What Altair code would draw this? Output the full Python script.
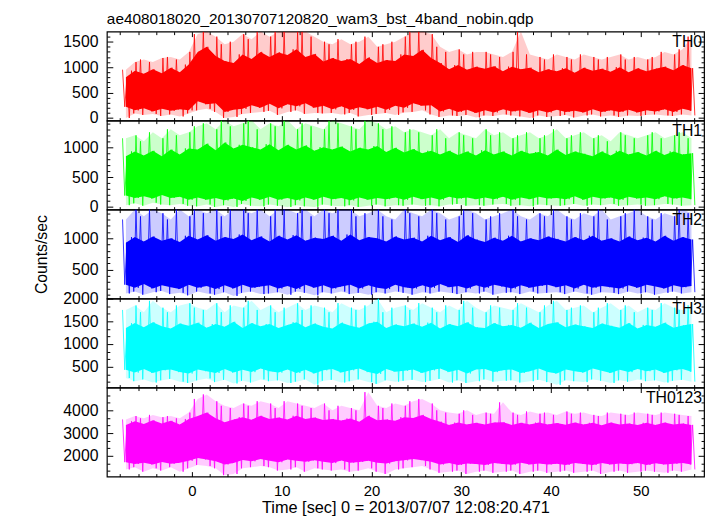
import altair as alt
import pandas as pd

FONT = "Liberation Sans"
TITLE = "ae408018020_20130707120820_wam3_bst_4band_nobin.qdp"
XTITLE = "Time [sec] 0 = 2013/07/07 12:08:20.471"
YTITLE = "Counts/sec"

T0 = -7.35  # centre of first one-second bin
X_DOMAIN = [-9.47, 57.05]
X_MAJOR = [0, 10, 20, 30, 40, 50]
X_MINOR = [-8, -6, -4, -2, 2, 4, 6, 8, 12, 14, 16, 18, 22, 24, 26, 28,
           32, 34, 36, 38, 42, 44, 46, 48, 52, 54, 56]

names = ["TH0", "TH1", "TH2", "TH3", "TH0123"]
colors = ["#ff0000", "#00ff00", "#0000ff", "#00ffff", "#ff00ff"]
y_domains = [[-52, 1698], [-45, 1445], [38, 1457], [39, 2000], [1087, 5000]]
y_major = [[0, 500, 1000, 1500], [0, 500, 1000], [500, 1000],
           [500, 1000, 1500, 2000], [2000, 3000, 4000]]
y_minor = [
    [100, 200, 300, 400, 600, 700, 800, 900, 1100, 1200, 1300, 1400, 1600],
    [100, 200, 300, 400, 600, 700, 800, 900, 1100, 1200, 1300, 1400],
    [100, 200, 300, 400, 600, 700, 800, 900, 1100, 1200, 1300, 1400],
    [167, 333, 667, 833, 1167, 1333, 1667, 1833],
    [1333, 1667, 2333, 2667, 3333, 3667, 4333, 4667],
]

# per one-second bin: highest spike, upper edge of dense band,
# lower edge of dense band, deepest dip
peak0 = [950, 1100, 1150, 1100, 1180, 1200, 1150, 1300,
         1650, 1700, 1600, 1450, 1500, 1650, 1550, 1700,
         1600, 1700, 1700, 1700, 1700, 1600, 1500, 1450,
         1550, 1450, 1500, 1600, 1400, 1450, 1500, 1600,
         1700, 1700, 1650, 1400, 1300, 1350, 1250, 1300,
         1300, 1250, 1200, 1300, 1700, 1250, 1200, 1150,
         1250, 1200, 1150, 1250, 1200, 1150, 1200, 1250,
         1150, 1200, 1150, 1200, 1300, 1250, 1350, 1600]
hi0 = [800, 930, 870, 960, 880, 990, 900, 1050,
       1300, 1400, 1220, 1120, 1080, 1250, 1160, 1300,
       1200, 1290, 1240, 1350, 1200, 1260, 1110, 1180,
       1120, 1160, 1060, 1190, 1080, 1140, 1120, 1250,
       1220, 1340, 1180, 1080, 960, 1040, 950, 1010,
       970, 1020, 920, 1010, 960, 990, 900, 960,
       920, 980, 890, 990, 930, 970, 910, 1000,
       900, 980, 920, 970, 1010, 940, 1040, 980]
lo0 = [220, 150, 190, 130, 180, 140, 170, 150,
       330, 270, 290, 120, 160, 180, 250, 200,
       280, 190, 270, 230, 290, 200, 240, 170,
       230, 160, 210, 170, 220, 160, 240, 200,
       290, 240, 250, 130, 180, 120, 160, 100,
       150, 110, 170, 130, 150, 100, 150, 110,
       160, 120, 140, 110, 170, 120, 150, 120,
       160, 110, 150, 130, 170, 120, 180, 140]
dip0 = [0, 90, 60, 80, 40, 70, 30, 90,
        150, 180, 120, 0, 20, 80, 100, 120,
        140, 60, 120, 150, 80, 100, 90, 100,
        70, 100, 30, 60, 80, 100, 60, 110,
        120, 150, 70, 20, 50, 40, 60, 10,
        50, 40, 70, 50, 30, 0, 50, 20,
        40, 60, 10, 50, 70, 30, 50, 20,
        50, 40, 60, 70, 50, 40, 70, 50]

peak1 = [1150, 1200, 1100, 1250, 1150, 1300, 1200, 1250,
         1350, 1400, 1300, 1450, 1350, 1400, 1450, 1300,
         1400, 1350, 1450, 1300, 1400, 1350, 1300, 1450,
         1400, 1350, 1300, 1450, 1400, 1300, 1350, 1250,
         1300, 1250, 1200, 1300, 1150, 1250, 1200, 1150,
         1300, 1200, 1250, 1150, 1200, 1250, 1150, 1200,
         1300, 1150, 1200, 1250, 1150, 1200, 1100, 1250,
         1200, 1150, 1200, 1250, 1150, 1200, 1250, 1150]
hi1 = [850, 930, 860, 940, 850, 960, 880, 980,
       960, 1060, 950, 1080, 980, 1040, 1000, 960,
       1050, 950, 1040, 960, 1030, 940, 1000, 960,
       1010, 930, 990, 960, 1020, 920, 990, 910,
       970, 900, 940, 880, 940, 870, 930, 860,
       950, 880, 930, 860, 940, 890, 920, 860,
       960, 870, 930, 890, 850, 930, 860, 940,
       880, 920, 860, 940, 870, 930, 880, 900]
lo1 = [190, 150, 180, 140, 200, 150, 170, 120,
       160, 120, 150, 110, 140, 100, 160, 120,
       170, 120, 150, 110, 160, 120, 170, 130,
       150, 110, 160, 120, 150, 130, 160, 120,
       170, 130, 160, 120, 170, 140, 160, 130,
       160, 130, 170, 120, 160, 130, 170, 140,
       150, 130, 180, 120, 170, 140, 160, 120,
       170, 140, 160, 130, 180, 140, 160, 130]
dip1 = [30, 60, 20, 70, 40, 30, 50, 20,
        10, 40, 0, 30, 0, 50, 20, 10,
        40, 20, 0, 30, 10, 0, 40, 20,
        10, 30, 0, 20, 40, 10, 30, 20,
        40, 20, 30, 10, 40, 50, 20, 30,
        20, 40, 50, 20, 30, 10, 40, 30,
        20, 30, 50, 20, 40, 30, 50, 20,
        30, 40, 20, 30, 50, 40, 20, 30]

peak2 = [1300, 1460, 1350, 1460, 1400, 1300, 1460, 1350,
         1460, 1400, 1460, 1350, 1460, 1460, 1400, 1460,
         1350, 1460, 1460, 1400, 1460, 1350, 1460, 1400,
         1460, 1460, 1350, 1400, 1460, 1350, 1300, 1460,
         1400, 1350, 1460, 1400, 1300, 1350, 1460, 1400,
         1300, 1350, 1400, 1460, 1350, 1300, 1400, 1350,
         1460, 1350, 1300, 1400, 1350, 1460, 1300, 1350,
         1400, 1460, 1350, 1300, 1400, 1350, 1460, 1400]
hi2 = [930, 1020, 950, 1030, 960, 1000, 940, 1040,
       980, 1050, 960, 1020, 990, 1060, 970, 1030,
       950, 1040, 980, 1050, 960, 1010, 990, 1040,
       960, 1060, 970, 1020, 1000, 950, 1030, 980,
       1010, 950, 1040, 970, 1020, 940, 1050, 980,
       940, 1010, 960, 1040, 950, 1000, 970, 1030,
       990, 950, 1020, 970, 1040, 960, 1000, 950,
       1030, 970, 1010, 950, 1040, 960, 1020, 980]
lo2 = [260, 210, 270, 200, 250, 220, 190, 260,
       210, 240, 190, 250, 200, 260, 210, 230,
       250, 200, 240, 190, 260, 210, 250, 200,
       230, 260, 200, 250, 210, 190, 260, 220,
       200, 250, 210, 270, 220, 240, 200, 250,
       210, 260, 230, 200, 250, 210, 240, 260,
       220, 250, 200, 260, 210, 240, 220, 200,
       250, 210, 260, 230, 200, 250, 220, 240]
dip2 = [120, 150, 100, 140, 160, 110, 130, 90,
        150, 120, 100, 140, 80, 130, 150, 110,
        120, 140, 100, 150, 130, 90, 140, 120,
        150, 110, 130, 100, 140, 120, 150, 130,
        100, 140, 120, 150, 130, 110, 140, 120,
        150, 100, 130, 140, 110, 150, 120, 130,
        140, 110, 150, 120, 100, 140, 130, 110,
        150, 120, 140, 100, 130, 150, 120, 140]

peak3 = [1750, 1850, 1700, 1950, 1800, 1700, 1850, 1900,
         1800, 1750, 1900, 1700, 1850, 1800, 1950, 1750,
         1850, 1700, 1800, 1900, 1750, 1850, 1800, 1700,
         1900, 1800, 1750, 1850, 2000, 1700, 1800, 1850,
         1750, 1900, 1800, 1700, 1850, 1750, 1950, 1800,
         1700, 1850, 1800, 1750, 1900, 1800, 1700, 1850,
         1950, 1750, 1800, 1850, 1700, 1800, 1900, 1750,
         1850, 1700, 1800, 1750, 1900, 1800, 1750, 1850]
hi3 = [1350, 1460, 1370, 1480, 1390, 1340, 1450, 1400,
       1470, 1360, 1440, 1380, 1490, 1350, 1460, 1390,
       1440, 1350, 1420, 1480, 1370, 1450, 1380, 1340,
       1470, 1400, 1360, 1450, 1490, 1350, 1430, 1390,
       1450, 1380, 1470, 1340, 1440, 1390, 1480, 1370,
       1350, 1460, 1390, 1420, 1360, 1470, 1350, 1440,
       1480, 1370, 1430, 1390, 1350, 1450, 1400, 1360,
       1460, 1340, 1420, 1380, 1470, 1360, 1410, 1440]
lo3 = [430, 370, 450, 360, 420, 440, 380, 350,
       440, 400, 360, 450, 370, 430, 380, 460,
       400, 370, 440, 360, 430, 350, 420, 450,
       370, 420, 460, 380, 340, 450, 390, 410,
       440, 360, 420, 460, 380, 430, 350, 440,
       450, 380, 420, 440, 360, 400, 460, 380,
       350, 440, 400, 370, 460, 410, 360, 430,
       380, 450, 400, 440, 360, 420, 450, 390]
dip3 = [250, 180, 220, 150, 200, 230, 170, 140,
        200, 240, 160, 210, 130, 190, 150, 220,
        180, 200, 140, 170, 220, 100, 190, 210,
        150, 180, 220, 160, 120, 200, 170, 190,
        210, 160, 190, 230, 150, 200, 140, 180,
        220, 170, 190, 200, 150, 180, 210, 160,
        100, 200, 180, 160, 220, 190, 140, 200,
        170, 220, 180, 200, 150, 190, 210, 170]

peak4 = [3600, 3750, 3650, 3800, 3700, 3750, 3650, 3900,
         4500, 4700, 4400, 4200, 4100, 4300, 4200, 4400,
         4300, 4100, 4400, 4300, 4200, 4100, 4300, 4000,
         4200, 4100, 4000, 4800, 4200, 4100, 4300, 4200,
         4400, 4500, 4300, 4000, 3900, 3850, 4000, 3800,
         3900, 3850, 4350, 3900, 3800, 3950, 3850, 3900,
         3800, 3950, 3850, 3900, 3800, 3750, 3900, 3850,
         3800, 3900, 3850, 3800, 3900, 3850, 3800, 3750]
hi4 = [3350, 3520, 3400, 3560, 3420, 3540, 3380, 3620,
       3750, 3900, 3650, 3480, 3600, 3700, 3590, 3760,
       3620, 3680, 3600, 3760, 3620, 3680, 3580, 3620,
       3550, 3640, 3500, 3760, 3560, 3600, 3540, 3700,
       3660, 3800, 3620, 3500, 3360, 3460, 3380, 3450,
       3380, 3460, 3480, 3360, 3450, 3380, 3460, 3380,
       3440, 3370, 3460, 3380, 3450, 3340, 3460, 3380,
       3420, 3350, 3450, 3360, 3460, 3380, 3420, 3360]
lo4 = [1720, 1640, 1700, 1620, 1730, 1650, 1690, 1780,
       1900, 1840, 1760, 1620, 1680, 1820, 1760, 1860,
       1780, 1720, 1840, 1780, 1740, 1800, 1740, 1680,
       1790, 1700, 1730, 1780, 1690, 1660, 1760, 1800,
       1860, 1810, 1740, 1620, 1680, 1600, 1660, 1640,
       1600, 1680, 1640, 1610, 1690, 1620, 1660, 1620,
       1650, 1600, 1680, 1640, 1600, 1680, 1620, 1660,
       1630, 1680, 1600, 1670, 1620, 1650, 1680, 1620]
dip4 = [1400, 1500, 1300, 1450, 1350, 1500, 1300, 1450,
        1600, 1550, 1450, 1150, 1200, 1450, 1500, 1550,
        1500, 1350, 1400, 1500, 1300, 1450, 1400, 1350,
        1400, 1300, 1350, 1450, 1300, 1200, 1400, 1450,
        1500, 1550, 1400, 1250, 1300, 1350, 1200, 1300,
        1350, 1250, 1300, 1350, 1200, 1300, 1350, 1250,
        1300, 1350, 1250, 1300, 1350, 1200, 1300, 1350,
        1250, 1300, 1350, 1300, 1250, 1350, 1300, 1400]

series = [(peak0, hi0, lo0, dip0), (peak1, hi1, lo1, dip1),
          (peak2, hi2, lo2, dip2), (peak3, hi3, lo3, dip3),
          (peak4, hi4, lo4, dip4)]

W, H = 604, 90
OFFS = [-0.375, -0.125, 0.125, 0.375]


def order(p, h, l, d, pat):
    # alternate high / low values; vary which extreme comes first
    return [(p, l, h, d), (h, d, p, l), (p, d, h, l), (h, l, p, d)][pat]


def inward(n):
    return {"expr": str(-n)}


def axis(orient, values, size, **kw):
    return alt.Axis(orient=orient, values=values, tickSize=inward(size),
                    domain=False, grid=False, tickColor="#000", tickWidth=1,
                    labelFont=FONT, titleFont=FONT, labelColor="#000",
                    titleColor="#000", titleFontWeight="normal", **kw)


def panel(i):
    peak, hi, lo, dip = series[i]
    rows, band = [], []
    for k, (p, h, l, d) in enumerate(zip(peak, hi, lo, dip)):
        tc = T0 + k
        seq = order(p, h, l, d, (k * 5 + k // 3) % 4)
        rows += [(tc + o, v) for o, v in zip(OFFS, seq)]
        band.append((tc, l, h, d, p))
    zig = pd.DataFrame(rows, columns=["t", "v"])
    bdf = pd.DataFrame(band, columns=["t", "lo", "hi", "dip", "peak"])

    xs = alt.Scale(domain=X_DOMAIN, nice=False, zero=False)
    ys = alt.Scale(domain=y_domains[i], nice=False, zero=False)
    last = i == len(names) - 1
    mid = i == 2

    if last:
        xb = axis("bottom", X_MAJOR, 5, labels=True, labelFontSize=15,
                  labelPadding=12, title=XTITLE, titleFontSize=16.5, titlePadding=1)
    else:
        xb = axis("bottom", X_MAJOR, 5, labels=False, title=None)
    ykw = dict(labels=True, labelFontSize=16, labelPadding=15, labelFlush=False,
               labelOverlap=False, format="d")
    if mid:
        yl = axis("left", y_major[i], 6, title=YTITLE, titleFontSize=16,
                  titlePadding=13, **ykw)
    else:
        yl = axis("left", y_major[i], 6, title=None, **ykw)

    halo = alt.Chart(bdf).mark_area(color=colors[i], opacity=0.2, clip=True).encode(
        x=alt.X("t:Q", scale=xs, axis=xb),
        y=alt.Y("dip:Q", scale=ys, axis=yl),
        y2="peak:Q",
    )
    core = alt.Chart(bdf).mark_area(color=colors[i], clip=True).encode(
        x=alt.X("t:Q", scale=xs, axis=axis("top", X_MAJOR, 5, labels=False, title=None)),
        y=alt.Y("lo:Q", scale=ys, axis=axis("right", y_major[i], 6, labels=False, title=None)),
        y2="hi:Q",
    )
    line = alt.Chart(zig).mark_line(color=colors[i], strokeWidth=1, opacity=0.8,
                                    clip=True).encode(
        x=alt.X("t:Q", scale=xs, axis=axis("bottom", X_MINOR, 3, labels=False, title=None)),
        y=alt.Y("v:Q", scale=ys, axis=axis("left", y_minor[i], 3, labels=False, title=None)),
    )
    minor_b = alt.Chart(zig).mark_line(opacity=0, clip=True).encode(
        x=alt.X("t:Q", scale=xs, axis=axis("top", X_MINOR, 3, labels=False, title=None)),
        y=alt.Y("v:Q", scale=ys, axis=axis("right", y_minor[i], 3, labels=False, title=None)),
    )
    label = alt.Chart(pd.DataFrame({"s": [names[i]]})).mark_text(
        align="right", baseline="top", font=FONT, fontSize=16, color="#000"
    ).encode(text="s:N", x=alt.value(W - 2), y=alt.value(3))

    ch = alt.layer(halo, core, line, minor_b, label).resolve_axis(
        x="independent", y="independent").properties(width=W, height=H)
    if i == 0:
        ch = ch.properties(title=alt.TitleParams(
            TITLE, anchor="start", frame="group", font=FONT, fontSize=15.5,
            fontWeight="normal", color="#000", offset=2, dy=-2))
    return ch


chart = alt.vconcat(*[panel(i) for i in range(len(names))], spacing=0,
                    bounds="flush").properties(
    padding={"left": 25, "top": 0, "right": 3, "bottom": 0}
).configure_view(stroke="#000", strokeWidth=1.2)

chart.save("out.html", embed_options={"renderer": "svg", "actions": False})
